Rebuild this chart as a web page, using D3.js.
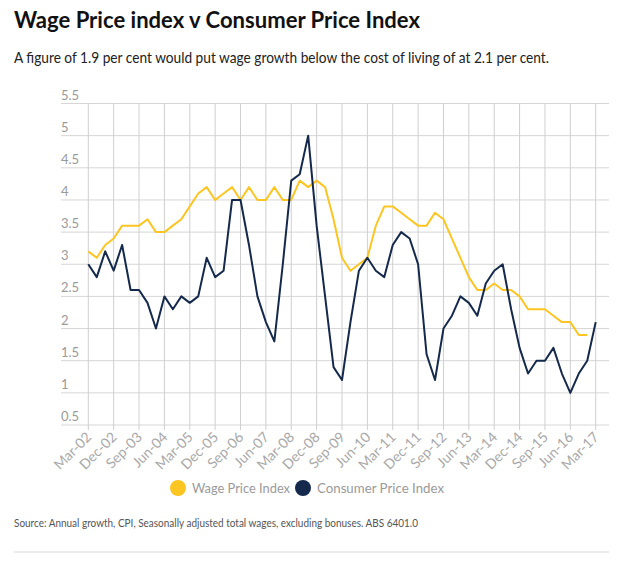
<!DOCTYPE html>
<html>
<head>
<meta charset="utf-8">
<script src="https://cdn.jsdelivr.net/npm/d3@7/dist/d3.min.js"></script>
<style>
  html, body { margin: 0; padding: 0; background: #fff; }
  svg { display: block; font-family: Lato, "Open Sans", sans-serif; }
</style>
</head>
<body>
<svg id="chart" width="640" height="565"></svg>
<script>
// ---- data ----
const quarters = (function () {
  const m = ["Mar", "Jun", "Sep", "Dec"], out = [];
  for (let y = 2; y <= 17; y++) for (let q = 0; q < 4; q++) {
    if (y === 17 && q > 0) break;
    out.push(m[q] + "-" + String(y).padStart(2, "0"));
  }
  return out;
})();
const tickLabels = ["Mar-02","Dec-02","Sep-03","Jun-04","Mar-05","Dec-05","Sep-06","Jun-07",
  "Mar-08","Dec-08","Sep-09","Jun-10","Mar-11","Dec-11","Sep-12","Jun-13","Mar-14","Dec-14",
  "Sep-15","Jun-16","Mar-17"];
const yTicks = [0.5, 1, 1.5, 2, 2.5, 3, 3.5, 4, 4.5, 5, 5.5];
const wpi = [3.2,3.1,3.3,3.4,3.6,3.6,3.6,3.7,3.5,3.5,3.6,3.7,3.9,4.1,4.2,4.0,4.1,4.2,4.0,4.2,
  4.0,4.0,4.2,4.0,4.0,4.3,4.2,4.3,4.2,3.7,3.1,2.9,3.0,3.1,3.6,3.9,3.9,3.8,3.7,3.6,
  3.6,3.8,3.7,3.4,3.1,2.8,2.6,2.6,2.7,2.6,2.6,2.5,2.3,2.3,2.3,2.2,2.1,2.1,1.9,1.9];
const cpi = [3.0,2.8,3.2,2.9,3.3,2.6,2.6,2.4,2.0,2.5,2.3,2.5,2.4,2.5,3.1,2.8,2.9,4.0,4.0,3.3,
  2.5,2.1,1.8,3.0,4.3,4.4,5.0,3.6,2.5,1.4,1.2,2.1,2.9,3.1,2.9,2.8,3.3,3.5,3.4,3.0,
  1.6,1.2,2.0,2.2,2.5,2.4,2.2,2.7,2.9,3.0,2.3,1.7,1.3,1.5,1.5,1.7,1.3,1.0,1.3,1.5,2.1];
const seriesNames = ["Wage Price Index", "Consumer Price Index"];
const seriesColors = ["#fcc521", "#14294b"];

// ---- drawing ----
const svg = d3.select("#chart");
const x = d3.scalePoint().domain(quarters).range([88.3, 595.7]);
const y = d3.scaleLinear().domain([0.5, 5.5]).range([425, 103.5]);
const gridLeft = 61, gridRight = 609;

svg.append("text").attr("x", 14).attr("y", 28)
  .attr("font-size", 22).attr("font-weight", 700).attr("fill", "#111")
  .attr("textLength", 406).attr("lengthAdjust", "spacingAndGlyphs")
  .text("Wage Price index v Consumer Price Index");
svg.append("text").attr("x", 14).attr("y", 63)
  .attr("font-size", 15).attr("fill", "#222")
  .attr("textLength", 535).attr("lengthAdjust", "spacingAndGlyphs")
  .text("A figure of 1.9 per cent would put wage growth below the cost of living of at 2.1 per cent.");

// horizontal gridlines + labels
const gy = svg.append("g");
gy.selectAll("line").data(yTicks).join("line")
  .attr("x1", gridLeft).attr("x2", gridRight)
  .attr("y1", d => y(d)).attr("y2", d => y(d))
  .attr("stroke", "#d6d6d6").attr("stroke-width", 1);
gy.selectAll("text").data(yTicks).join("text")
  .attr("x", gridLeft).attr("y", d => y(d) - 4)
  .attr("font-size", 13).attr("fill", "#9a9a9a")
  .text(d => d);

// vertical gridlines
const gx = svg.append("g");
gx.selectAll("line").data(tickLabels).join("line")
  .attr("x1", d => x(d)).attr("x2", d => x(d))
  .attr("y1", y(5.5)).attr("y2", y(0.5) + 5)
  .attr("stroke", "#cfcfcf").attr("stroke-width", 1);
gx.selectAll("text").data(tickLabels).join("text")
  .attr("transform", d => `translate(${x(d) + 4},${y(0.5) + 13}) rotate(-45)`)
  .attr("text-anchor", "end")
  .attr("font-size", 14).attr("fill", "#a8a8a8")
  .text(d => d);

// lines
const line = d3.line().x((d, i) => x(quarters[i])).y(d => y(d));
[wpi, cpi].forEach((s, k) => {
  svg.append("path").datum(s)
    .attr("d", line).attr("fill", "none")
    .attr("stroke", seriesColors[k]).attr("stroke-width", 2)
    .attr("stroke-linejoin", "round");
});

// legend
const leg = svg.append("g");
const legX = [178, 303];
const legLen = [98, 127];
seriesNames.forEach((n, k) => {
  leg.append("circle").attr("cx", legX[k]).attr("cy", 488).attr("r", 8).attr("fill", seriesColors[k]);
  leg.append("text").attr("x", legX[k] + 14).attr("y", 493)
    .attr("font-size", 14).attr("fill", "#9a9a9a")
    .attr("textLength", legLen[k]).attr("lengthAdjust", "spacingAndGlyphs")
    .text(n);
});

// source + divider
svg.append("text").attr("x", 14).attr("y", 527)
  .attr("font-size", 10.5).attr("fill", "#555")
  .attr("textLength", 404).attr("lengthAdjust", "spacingAndGlyphs")
  .text("Source: Annual growth, CPI, Seasonally adjusted total wages, excluding bonuses. ABS 6401.0");
svg.append("line").attr("x1", 14).attr("x2", 609).attr("y1", 552).attr("y2", 552)
  .attr("stroke", "#e6e6e6").attr("stroke-width", 1.5);
</script>
</body>
</html>
